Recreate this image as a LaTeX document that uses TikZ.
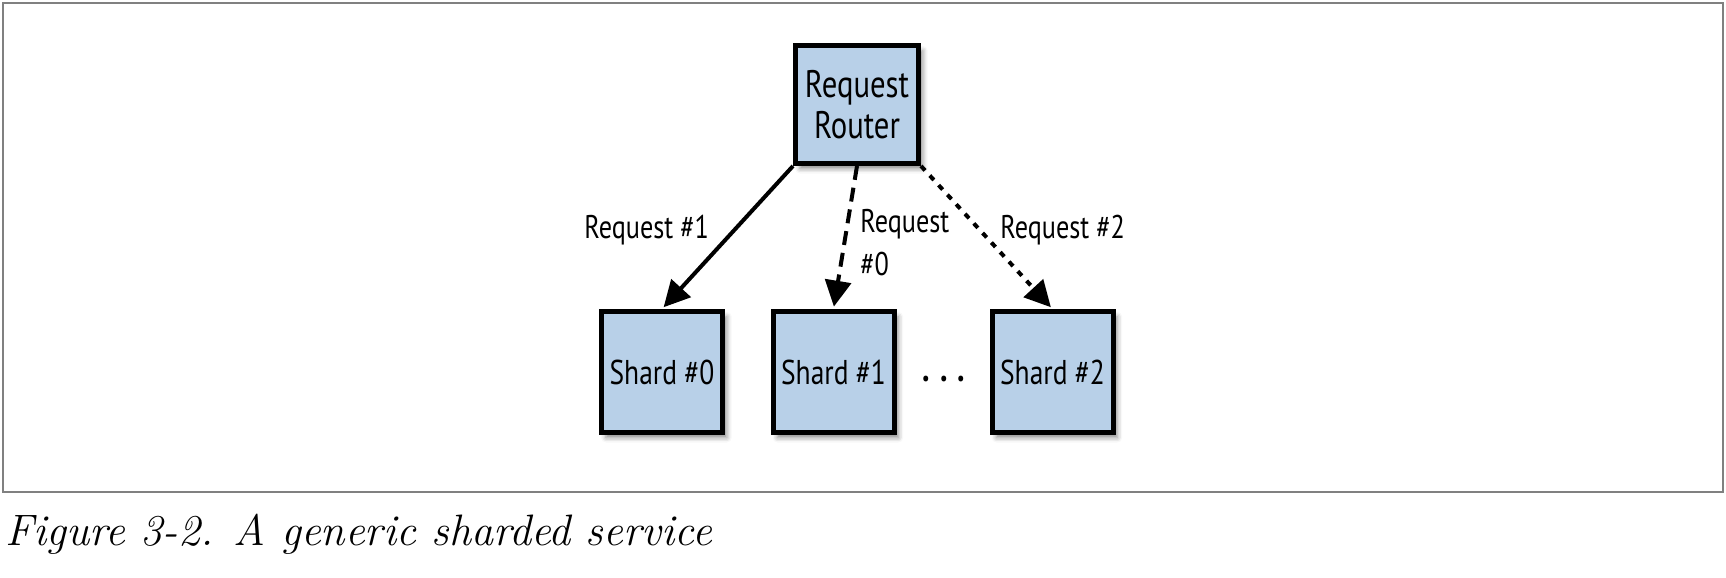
\documentclass[tikz,border=0pt]{standalone}
\usepackage{fontspec}
\newfontfamily\labfont[FakeStretch=0.8]{PT Sans}
\usetikzlibrary{arrows.meta,shadows.blur}
\definecolor{boxblue}{RGB}{184,208,232}
\definecolor{framegray}{RGB}{128,128,128}
\tikzset{
  box/.style={draw=black, line width=2.5pt, fill=boxblue, inner sep=0pt,
    minimum width=60.5pt, minimum height=60.5pt, align=center,
    blur shadow={shadow xshift=2.2pt, shadow yshift=-2.6pt, shadow blur radius=2.4pt, shadow opacity=45}},
  conn/.style={line width=2pt, -{Triangle[length=13pt,width=13pt]}, shorten >=1.2pt},
  lab/.style={inner sep=0pt, font=\labfont\fontsize{16.4}{19}\selectfont},
}
\begin{document}
\begin{tikzpicture}[x=0.5pt,y=-0.5pt]
\useasboundingbox (0,0) rectangle (1726,578);
\node[draw=framegray, line width=1pt, minimum width=860pt, minimum height=244.5pt, inner sep=0pt] (frame) at (863,247.5) {};
\node[box, minimum width=61.5pt, minimum height=59pt, font=\labfont\fontsize{19.2}{20.5}\selectfont] (router) at (857,104.5) {Request\\Router};
\node[box, font=\labfont\fontsize{17.2}{20}\selectfont] (s0) at (662,372) {Shard \#0};
\node[box, font=\labfont\fontsize{17.2}{20}\selectfont] (s1) at (833.5,372) {Shard \#1};
\node[box, font=\labfont\fontsize{17.2}{20}\selectfont] (s2) at (1052.5,372) {Shard \#2};
\node[inner sep=0pt, anchor=base, font=\labfont\bfseries\fontsize{19}{20}\selectfont] (dots) at (944,381) {.\kern5pt.\kern5pt.};
\draw[conn] (router.south west) -- (s0.north);
\draw[conn, dash pattern=on 7pt off 4pt] (router.south) -- (s1.north);
\draw[conn, dash pattern=on 3pt off 3.5pt] (router.south east) -- (s2.north);
\node[lab, anchor=base west] (l1) at (584,238) {Request \#1};
\node[lab, anchor=base west] (l0a) at (860,232) {Request};
\node[lab, anchor=base west] (l0b) at (860,275) {\#0};
\node[lab, anchor=base west] (l2) at (1000,238) {Request \#2};
\node[inner sep=0pt, anchor=base west, font=\fontsize{22}{26}\selectfont\itshape] (cap) at (5,545) {Figure 3-2. A generic sharded service};
\end{tikzpicture}
\end{document}
